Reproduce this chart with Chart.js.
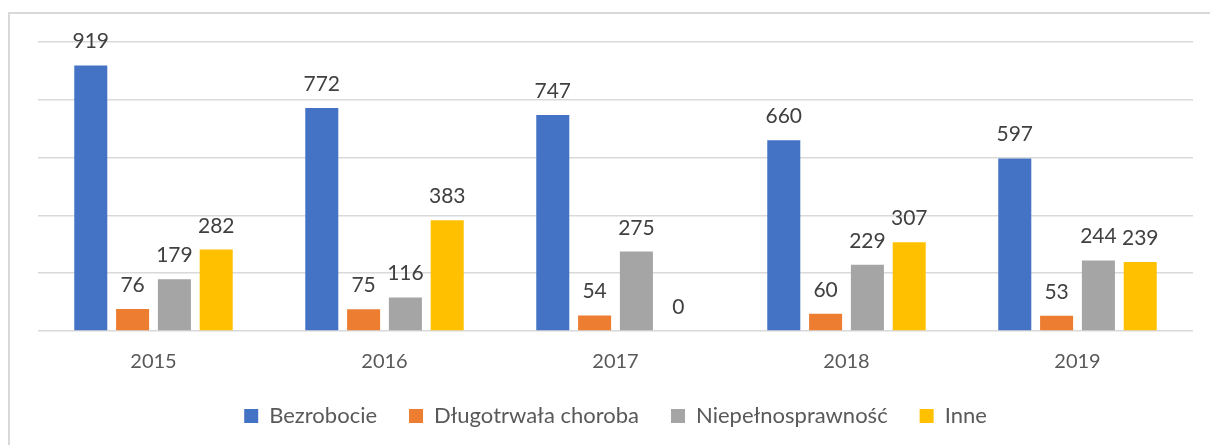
<!DOCTYPE html>
<html>
<head>
<meta charset="utf-8">
<script src="https://cdn.jsdelivr.net/npm/chart.js@4/dist/chart.umd.min.js"></script>
<style>
  html, body { margin: 0; padding: 0; background: #ffffff; overflow: hidden; }
  #wrap { position: relative; width: 1210px; height: 445px; }
  #frame { position: absolute; left: 8px; top: 12px; width: 1300px; height: 600px;
           border: 2px solid #d9d9d9; box-sizing: border-box; }
  canvas { position: absolute; left: 0; top: 0; }
</style>
</head>
<body>
<div id="wrap">
  <div id="frame"></div>
  <canvas id="c" width="1210" height="445"></canvas>
</div>
<script>
const categories = ['2015', '2016', '2017', '2018', '2019'];
const seriesNames = ['Bezrobocie', 'Długotrwała choroba', 'Niepełnosprawność', 'Inne'];
const bezrobocie = [919, 772, 747, 660, 597];
const dlugotrwalaChoroba = [76, 75, 54, 60, 53];
const niepelnosprawnosc = [179, 116, 275, 229, 244];
const inne = [282, 383, 0, 307, 239];
const yTicks = [0, 200, 400, 600, 800, 1000];

const colors = ['#4472C4', '#ED7D31', '#A5A5A5', '#FFC000'];
const seriesValues = [bezrobocie, dlugotrwalaChoroba, niepelnosprawnosc, inne];

const FONT = 'Lato, "Open Sans", sans-serif';

const dataLabels = {
  id: 'dataLabels',
  afterDatasetsDraw(chart) {
    const ctx = chart.ctx;
    ctx.save();
    ctx.font = '21px ' + FONT;
    ctx.fillStyle = '#404040';
    ctx.textAlign = 'center';
    ctx.textBaseline = 'alphabetic';
    chart.data.datasets.forEach((ds, di) => {
      const meta = chart.getDatasetMeta(di);
      meta.data.forEach((el, i) => {
        ctx.fillText(String(ds.data[i]), el.x, el.y - 17);
      });
    });
    ctx.restore();
  }
};

const legendSize = {
  id: 'legendSize',
  beforeInit(chart) {
    const lg = chart.legend;
    if (!lg) return;
    const orig = lg.fit;
    lg.fit = function () {
      orig.call(this);
      this.height = 72;
    };
  }
};

new Chart(document.getElementById('c'), {
  type: 'bar',
  data: {
    labels: categories,
    datasets: seriesNames.map((name, i) => ({
      label: name,
      data: seriesValues[i],
      backgroundColor: colors[i],
      borderWidth: 0,
      categoryPercentage: 0.724,
      barPercentage: 0.79
    }))
  },
  options: {
    responsive: false,
    animation: false,
    devicePixelRatio: 1,
    layout: { padding: { left: 38, right: 17, top: 42, bottom: 0 } },
    scales: {
      x: {
        grid: { display: false, drawTicks: false },
        border: { display: false },
        ticks: { color: '#595959', font: { family: FONT, size: 20 }, padding: 19 },
        afterFit(scale) { scale.height = 42; }
      },
      y: {
        min: 0,
        max: 1000,
        afterBuildTicks(scale) { scale.ticks = yTicks.map(v => ({ value: v })); },
        ticks: { display: false },
        grid: { color: '#d9d9d9', lineWidth: 1.5, drawTicks: false },
        border: { display: false },
        afterFit(scale) { scale.width = 0; }
      }
    },
    plugins: {
      legend: {
        position: 'bottom',
        labels: {
          color: '#595959',
          font: { family: FONT, size: 22 },
          boxWidth: 14,
          boxHeight: 14,
          padding: 32
        }
      },
      tooltip: { enabled: false }
    }
  },
  plugins: [dataLabels, legendSize]
});
</script>
</body>
</html>
